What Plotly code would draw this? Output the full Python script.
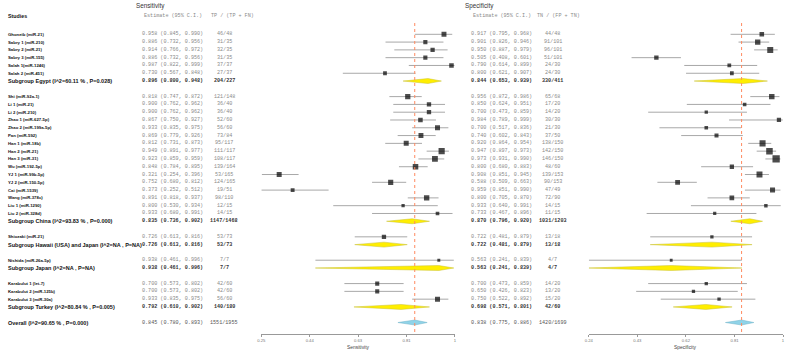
import plotly.graph_objects as go

# ---------------- DATA ----------------
studies = [
    "Ghoneib (miR-21)", "Sabry 1 (miR-210)", "Sabry 2 (miR-21)", "Sabry 3 (miR-155)",
    "Salah 1(miR-1246)", "Salah 2 (miR-451)",
    "Shi (miR-92a-1)", "Li 1 (miR-21)", "Li 2 (miR-210)", "Zhao 1 (miR-627-5p)",
    "Zhao 2 (miR-199a-5p)", "Pan (miR-592)", "Han 1 (miR-18b)", "Han 2 (miR-21)",
    "Han 3 (miR-31)", "Wu (miR-192-5p)", "YJ 1 (miR-99b-5p)", "YJ 2 (miR-150-5p)",
    "Cai (miR-1539)", "Wang (miR-378c)", "Liu 1 (miR-1290)", "Liu 2 (miR-328d)",
    "Shiozaki (miR-21)",
    "Nishida (miR-26a-5p)",
    "Karabulut 1 (let-7)", "Karabulut 2 (miR-125b)", "Karabulut 3 (miR-30a)",
]
group_names = ["Egypt", "China", "Hawaii (USA) and Japan", "Japan", "Turkey"]
group_sizes = [6, 16, 1, 1, 3]
group_i2 = ["60.11 %", "93.83 %", "NA", "NA", "80.84 %"]
group_p = ["0.028", "0.000", "NA", "NA", "0.005"]
overall_i2 = "90.65 %"
overall_p = "0.000"

sens_est = [0.958, 0.886, 0.914, 0.886, 0.987, 0.730,
            0.818, 0.900, 0.900, 0.867, 0.933, 0.869, 0.812, 0.949, 0.923, 0.848,
            0.321, 0.752, 0.373, 0.891, 0.800, 0.933,
            0.726, 0.938, 0.700, 0.700, 0.933]
sens_lo = [0.845, 0.732, 0.766, 0.732, 0.822, 0.567,
           0.747, 0.762, 0.762, 0.750, 0.835, 0.779, 0.731, 0.891, 0.859, 0.784,
           0.254, 0.680, 0.252, 0.818, 0.530, 0.680,
           0.613, 0.461, 0.573, 0.573, 0.835]
sens_hi = [0.990, 0.956, 0.972, 0.956, 0.999, 0.848,
           0.872, 0.962, 0.962, 0.927, 0.975, 0.926, 0.873, 0.977, 0.959, 0.895,
           0.396, 0.812, 0.512, 0.937, 0.934, 0.991,
           0.816, 0.996, 0.802, 0.802, 0.975]
sens_tp = [46, 31, 32, 31, 37, 27, 121, 36, 36, 52, 56, 73, 95, 111, 108, 139,
           53, 124, 19, 98, 12, 14, 53, 7, 42, 42, 56]
sens_n = [48, 35, 35, 35, 37, 37, 148, 40, 40, 60, 60, 84, 117, 117, 117, 164,
          165, 165, 51, 110, 15, 15, 73, 7, 60, 60, 60]
sens_sub_est = [0.896, 0.835, 0.726, 0.938, 0.792]
sens_sub_lo = [0.800, 0.736, 0.613, 0.461, 0.610]
sens_sub_hi = [0.948, 0.902, 0.816, 0.996, 0.902]
sens_sub_tp = [204, 1147, 53, 7, 140]
sens_sub_n = [227, 1468, 73, 7, 180]
sens_all = (0.845, 0.780, 0.893, 1551, 1955)

spec_est = [0.917, 0.901, 0.950, 0.505, 0.790, 0.800,
            0.956, 0.850, 0.700, 0.984, 0.700, 0.740, 0.920, 0.947, 0.973, 0.800,
            0.908, 0.588, 0.959, 0.800, 0.933, 0.733,
            0.722, 0.563, 0.700, 0.650, 0.750]
spec_lo = [0.795, 0.826, 0.887, 0.408, 0.614, 0.621,
           0.872, 0.624, 0.473, 0.789, 0.517, 0.602, 0.864, 0.897, 0.931, 0.680,
           0.851, 0.509, 0.851, 0.705, 0.640, 0.467,
           0.481, 0.241, 0.473, 0.426, 0.522]
spec_hi = [0.968, 0.946, 0.979, 0.601, 0.899, 0.907,
           0.986, 0.951, 0.859, 0.999, 0.836, 0.843, 0.954, 0.973, 0.990, 0.883,
           0.945, 0.663, 0.990, 0.870, 0.991, 0.896,
           0.879, 0.839, 0.859, 0.823, 0.892]
spec_tn = [44, 91, 96, 51, 24, 24, 65, 17, 14, 30, 21, 37, 138, 142, 146, 48,
           139, 90, 47, 72, 14, 11, 13, 4, 14, 13, 15]
spec_n = [48, 101, 101, 101, 30, 30, 68, 20, 20, 30, 30, 50, 150, 150, 150, 60,
          153, 153, 49, 90, 15, 15, 18, 7, 20, 20, 20]
spec_sub_est = [0.844, 0.870, 0.722, 0.563, 0.698]
spec_sub_lo = [0.653, 0.796, 0.481, 0.241, 0.571]
spec_sub_hi = [0.939, 0.920, 0.879, 0.839, 0.801]
spec_sub_tn = [330, 1031, 13, 4, 42]
spec_sub_n = [411, 1203, 18, 7, 60]
spec_all = (0.838, 0.775, 0.886, 1420, 1699)

sens_tick_labels = ["0.25", "0.44", "0.63", "0.81", "1"]
spec_tick_labels = ["0.24", "0.43", "0.62", "0.81", "1"]

# ---------------- LAYOUT HELPERS ----------------
W, H = 789, 352
ROW0, STEP, AXIS_Y = 34.3, 7.79, 334.3
y_top = -ROW0 / STEP
y_bot = (AXIS_Y - ROW0) / STEP


def px_row(p):
    return (p - ROW0) / STEP


def px_x(p):
    return p / W


study_rows, sub_rows = [], []
r = 0
for gs in group_sizes:
    for _ in range(gs):
        study_rows.append(r)
        r += 1
    sub_rows.append(r)
    r += 2
overall_row = r

SANS = "Liberation Sans, Arial, sans-serif"
MONO = "Liberation Mono, Courier New, monospace"

fig = go.Figure()
annotations = []
shapes = []


def ann(x, y, text, size, color="#000", family=SANS, anchor="left", yref="y", bold=False):
    annotations.append(dict(
        x=x, y=y, xref="paper", yref=yref, text=(f"<b>{text}</b>" if bold else text),
        showarrow=False, xanchor=anchor, yanchor="middle",
        font=dict(size=size, color=color, family=family), borderpad=0))


def msize(lo, hi):
    return max(2.8, 0.8 + 1.58 * (1.0 / (hi - lo)) ** 0.5)


panels = [
    dict(xa="x", est=sens_est, lo=sens_lo, hi=sens_hi, k=sens_tp, n=sens_n,
         sest=sens_sub_est, slo=sens_sub_lo, shi=sens_sub_hi, sk=sens_sub_tp, sn=sens_sub_n,
         allv=sens_all, est_x=138, cnt_x=222, hdr_x=140.5, hdr2_x=208,
         hdr2="TP / (TP + FN)", title="Sensitivity", title_x=147.6),
    dict(xa="x2", est=spec_est, lo=spec_lo, hi=spec_hi, k=spec_tn, n=spec_n,
         sest=spec_sub_est, slo=spec_sub_lo, shi=spec_sub_hi, sk=spec_sub_tn, sn=spec_sub_n,
         allv=spec_all, est_x=469.3, cnt_x=553, hdr_x=471.5, hdr2_x=536,
         hdr2="TN / (FP + TN)", title="Specificity", title_x=478.7),
]

DH = 0.32  # diamond half-height in rows

for P in panels:
    xa = P["xa"]
    lx, ly = [], []
    for i, row in enumerate(study_rows):
        lx += [P["lo"][i], P["hi"][i], None]
        ly += [row, row, None]
    fig.add_trace(go.Scatter(x=lx, y=ly, mode="lines", xaxis=xa, yaxis="y",
                             line=dict(color="#a8a8a8", width=1), hoverinfo="skip",
                             showlegend=False))
    fig.add_trace(go.Scatter(
        x=P["est"], y=study_rows, mode="markers", xaxis=xa, yaxis="y",
        marker=dict(symbol="square", color="#000",
                    size=[msize(a, b) for a, b in zip(P["lo"], P["hi"])],
                    line=dict(width=0)),
        showlegend=False))
    for j, row in enumerate(sub_rows):
        e, a, b = P["sest"][j], P["slo"][j], P["shi"][j]
        fig.add_trace(go.Scatter(
            x=[a, e, b, e, a], y=[row, row - DH, row, row + DH, row],
            mode="lines", fill="toself", fillcolor="#ffee00", xaxis=xa, yaxis="y",
            line=dict(color="#c8c030", width=0.5), showlegend=False, hoverinfo="skip"))
    e, a, b = P["allv"][0], P["allv"][1], P["allv"][2]
    fig.add_trace(go.Scatter(
        x=[a, e, b, e, a], y=[overall_row, overall_row - DH, overall_row, overall_row + DH, overall_row],
        mode="lines", fill="toself", fillcolor="#8fd3e8", xaxis=xa, yaxis="y",
        line=dict(color="#6fb3c8", width=0.5), showlegend=False, hoverinfo="skip"))
    shapes.append(dict(type="line", xref=xa, yref="y", x0=e, x1=e,
                       y0=px_row(23), y1=y_bot,
                       line=dict(color="#ff8a60", width=1, dash="dot")))

    for i, row in enumerate(study_rows):
        ann(px_x(P["est_x"]), row, f"{P['est'][i]:.3f} ({P['lo'][i]:.3f}, {P['hi'][i]:.3f})",
            5.1, "#8a8a8a", MONO)
        ann(px_x(P["cnt_x"]), row, f"{P['k'][i]}/{P['n'][i]}", 5.1, "#8a8a8a", MONO, anchor="center")
    for j, row in enumerate(sub_rows):
        ann(px_x(P["est_x"]), row, f"{P['sest'][j]:.3f} ({P['slo'][j]:.3f}, {P['shi'][j]:.3f})",
            5.1, "#333", MONO, bold=True)
        ann(px_x(P["cnt_x"]), row, f"{P['sk'][j]}/{P['sn'][j]}", 5.1, "#333", MONO,
            anchor="center", bold=True)
    av = P["allv"]
    ann(px_x(P["est_x"]), overall_row, f"{av[0]:.3f} ({av[1]:.3f}, {av[2]:.3f})", 5.1, "#555", MONO)
    ann(px_x(P["cnt_x"]), overall_row, f"{av[3]}/{av[4]}", 5.1, "#555", MONO, anchor="center")
    ann(px_x(P["hdr_x"]), px_row(16), "Estimate (95% C.I.)", 5.1, "#8a8a8a", MONO)
    ann(px_x(P["hdr2_x"]), px_row(16), P["hdr2"], 5.1, "#8a8a8a", MONO)
    ann(px_x(P["title_x"]), px_row(5.7), P["title"], 6.3, "#333", SANS, anchor="center")

for i, row in enumerate(study_rows):
    ann(px_x(2.7), row, studies[i], 4.3, "#111", SANS, bold=True)
for j, row in enumerate(sub_rows):
    ann(px_x(2.7), row, f"Subgroup {group_names[j]} (I^2={group_i2[j]} , P={group_p[j]})",
        5.5, "#111", SANS, bold=True)
ann(px_x(2.7), overall_row, f"Overall (I^2={overall_i2} , P={overall_p})", 5.5, "#111", SANS, bold=True)
ann(px_x(2.7), px_row(16), "Studies", 5.3, "#111", SANS, bold=True)

sx0, sx1 = 259.3, 454.3
px0, px1 = 589.3, 785.0
ann(px_x((sx0 + sx1) / 2), 1 - 347.3 / H, "Sensitivity", 4.9, "#444", SANS, anchor="center", yref="paper")
ann(px_x((px0 + px1) / 2), 1 - 347.3 / H, "Specificity", 4.9, "#444", SANS, anchor="center", yref="paper")

# axis range: from the smallest lower CI bound up to 1, five evenly spaced ticks
sens_min = min(sens_lo)
spec_min = min(spec_lo + spec_sub_lo)
sens_tickvals = [sens_min + k * (1 - sens_min) / 4 for k in range(5)]
spec_tickvals = [spec_min + k * (1 - spec_min) / 4 for k in range(5)]

axis_common = dict(showgrid=False, zeroline=False, showline=True, linecolor="#999",
                   linewidth=1, ticks="outside", ticklen=2, tickcolor="#999",
                   tickfont=dict(size=4.2, color="#777", family=SANS), anchor="y")

fig.update_layout(
    width=W, height=H, margin=dict(l=0, r=0, t=0, b=0),
    paper_bgcolor="white", plot_bgcolor="white", showlegend=False,
    xaxis=dict(domain=[sx0 / W, sx1 / W], range=[sens_min, 1.0],
               tickvals=sens_tickvals, ticktext=sens_tick_labels, **axis_common),
    xaxis2=dict(domain=[px0 / W, px1 / W], range=[spec_min, 1.0],
                tickvals=spec_tickvals, ticktext=spec_tick_labels, **axis_common),
    yaxis=dict(domain=[1 - AXIS_Y / H, 1], range=[y_bot, y_top], visible=False, fixedrange=True),
    annotations=annotations, shapes=shapes,
)

fig.write_html("out.html")
